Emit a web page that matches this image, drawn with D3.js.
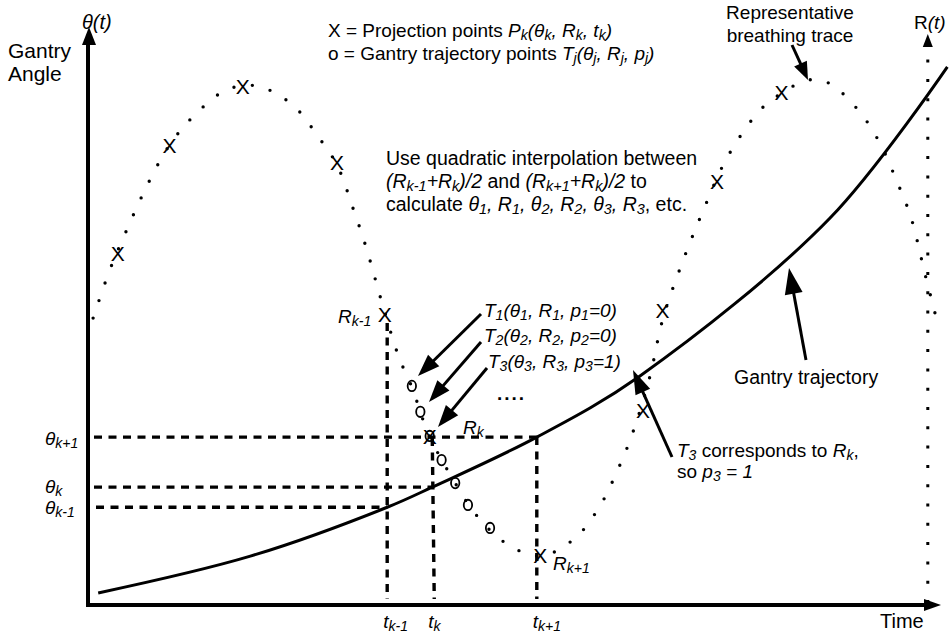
<!DOCTYPE html>
<html>
<head>
<meta charset="utf-8">
<script src="https://cdn.jsdelivr.net/npm/d3@7"></script>
<style>
  body { margin: 0; background: #fff; }
  text { font-family: "Liberation Sans", Arial, sans-serif; fill: #000; }
</style>
</head>
<body>
<svg id="chart" width="951" height="637"></svg>
<script>
"use strict";

// representative breathing trace R(t)
var traceT = [0.6, 2.6, 4.4, 7.1, 9.6, 12.2, 16.0, 18.2, 20.4, 24.2, 27.1, 29.3, 31.2, 32.7, 34.6,
  36.6, 38.1, 40.1, 43.2, 45.6, 49.1, 53.2, 57.2, 60.1, 62.2, 64.0, 66.1, 67.6, 69.9, 72.4,
  75.3, 79.1, 81.6, 84.7, 87.1, 90.6, 93.1, 95.1, 96.8, 98.5, 99.8];
var traceR = [49.9, 58.4, 64.7, 73.4, 80.0, 84.7, 89.4, 90.3, 90.1, 86.8, 81.4, 76.5, 68.9, 62.3, 52.5,
  43.0, 37.9, 29.6, 21.2, 15.8, 10.8, 8.5, 11.5, 16.9, 23.1, 29.6, 39.7, 49.6, 59.5, 68.7,
  78.1, 86.1, 89.0, 91.3, 90.8, 86.1, 80.5, 73.9, 67.5, 57.4, 49.9];

// projection points P_k (X)
var projT = [3.5, 9.6, 18.2, 29.3, 34.9, 40.2, 53.2, 65.3, 67.6, 74.0, 81.6];
var projR = [61.2, 80.0, 90.1, 77.0, 50.6, 29.4, 8.7, 33.9, 51.3, 73.6, 89.2];

// gantry trajectory points T_j (o)
var gantryPtT = [38.1, 39.1, 40.2, 41.6, 43.2, 44.7, 47.3];
var gantryPtR = [38.1, 33.6, 29.4, 25.2, 21.2, 17.4, 13.4];

// gantry trajectory theta(t)
var trajT = [1.2, 19.1, 35.2, 40.5, 52.8, 64.9, 87.3, 101.1];
var trajTheta = [2.1, 8.5, 17.0, 20.5, 29.2, 39.8, 67.3, 93.6];

// marked instants k-1, k, k+1
var tickNames = ["k-1", "k", "k+1"];
var tickT = [35.2, 40.5, 52.8];
var tickTheta = [17.0, 20.5, 29.2];

var svg = d3.select("#chart");
var x = d3.scaleLinear().domain([0, 100]).range([88, 938]);
var y = d3.scaleLinear().domain([0, 100]).range([605, 30]);

// filled-head arrow
function arrow(g, x1, y1, x2, y2, width, headLen, headHalf) {
  var dx = x2 - x1, dy = y2 - y1;
  var len = Math.sqrt(dx * dx + dy * dy);
  var ux = dx / len, uy = dy / len;
  var bx = x2 - ux * headLen, by = y2 - uy * headLen;
  g.append("line")
    .attr("x1", x1).attr("y1", y1)
    .attr("x2", bx + ux * 2).attr("y2", by + uy * 2)
    .attr("stroke", "#000")
    .attr("stroke-width", width);
  g.append("path")
    .attr("d", "M" + x2 + "," + y2 +
      "L" + (bx - uy * headHalf) + "," + (by + ux * headHalf) +
      "L" + (bx + uy * headHalf) + "," + (by - ux * headHalf) + "Z")
    .attr("fill", "#000");
}

// text with italic parts and subscripts
// n = normal, i = italic, s = italic subscript
function richText(g, px, py, segs, size, anchor) {
  var t = g.append("text")
    .attr("x", px).attr("y", py)
    .attr("font-size", size)
    .attr("text-anchor", anchor || "start");
  var shift = 0;
  segs.forEach(function(s) {
    var target = s[1] === "s" ? 2.5 : 0;
    t.append("tspan")
      .attr("dy", target - shift)
      .attr("font-style", s[1] === "n" ? "normal" : "italic")
      .attr("font-size", s[1] === "s" ? size * 0.74 : size)
      .text(s[0]);
    shift = target;
  });
  return t;
}

// axes
var axes = svg.append("g");
axes.append("line")
  .attr("x1", x(0)).attr("y1", y(0) + 2)
  .attr("x2", x(0)).attr("y2", 40)
  .attr("stroke", "#000").attr("stroke-width", 4);
axes.append("path")
  .attr("d", "M" + (x(0) + 1) + ",27L" + (x(0) - 6) + ",45L" + (x(0) + 8) + ",45Z")
  .attr("fill", "#000");
axes.append("line")
  .attr("x1", x(0) - 2).attr("y1", y(0))
  .attr("x2", 928).attr("y2", y(0))
  .attr("stroke", "#000").attr("stroke-width", 4);
axes.append("path")
  .attr("d", "M941," + y(0) + "L924," + (y(0) - 6) + "L924," + (y(0) + 6) + "Z")
  .attr("fill", "#000");

// R(t) axis, dotted
var rAxisX = x(98.8);
axes.append("line")
  .attr("x1", rAxisX).attr("y1", y(0) - 2)
  .attr("x2", rAxisX).attr("y2", 48)
  .attr("stroke", "#000").attr("stroke-width", 3)
  .attr("stroke-dasharray", "3,16.3");
axes.append("path")
  .attr("d", "M" + rAxisX + ",34L" + (rAxisX - 5) + ",47L" + (rAxisX + 5) + ",47Z")
  .attr("fill", "#000");

// dashed guides
var guides = svg.append("g")
  .attr("stroke", "#000")
  .attr("stroke-width", 3.4)
  .attr("stroke-dasharray", "8,6.5");
var vTop = [y(projR[4]) + 9, y(projR[5]) + 2, y(tickTheta[2])];
tickT.forEach(function(t, i) {
  guides.append("line")
    .attr("x1", 94 + (i === 0 ? 2 : 0)).attr("y1", y(tickTheta[i]))
    .attr("x2", x(t)).attr("y2", y(tickTheta[i]));
  guides.append("line")
    .attr("x1", x(t)).attr("y1", vTop[i])
    .attr("x2", x(t) + (i === 1 ? 2 : 0)).attr("y2", y(0) - 6);
});

// gantry trajectory
var trajLine = d3.line()
  .x(function(i) { return x(trajT[i]); })
  .y(function(i) { return y(trajTheta[i]); })
  .curve(d3.curveCatmullRom.alpha(0.5));
svg.append("path")
  .attr("d", trajLine(d3.range(trajT.length)))
  .attr("fill", "none")
  .attr("stroke", "#000")
  .attr("stroke-width", 3);

// breathing trace, dotted
var traceLine = d3.line()
  .x(function(i) { return x(traceT[i]); })
  .y(function(i) { return y(traceR[i]); })
  .curve(d3.curveCatmullRom.alpha(0.5));
svg.append("path")
  .attr("d", traceLine(d3.range(traceT.length)))
  .attr("fill", "none")
  .attr("stroke", "#000")
  .attr("stroke-width", 3.4)
  .attr("stroke-linecap", "round")
  .attr("stroke-dasharray", "0,18.5");

// projection points
svg.append("g").selectAll("text")
  .data(d3.range(projT.length))
  .join("text")
  .attr("x", function(i) { return x(projT[i]); })
  .attr("y", function(i) { return y(projR[i]); })
  .attr("dy", "0.36em")
  .attr("text-anchor", "middle")
  .attr("font-size", 21)
  .text("X");

// gantry trajectory points
svg.append("g").selectAll("ellipse")
  .data(d3.range(gantryPtT.length))
  .join("ellipse")
  .attr("cx", function(i) { return x(gantryPtT[i]); })
  .attr("cy", function(i) { return y(gantryPtR[i]); })
  .attr("rx", 4.2)
  .attr("ry", 5.2)
  .attr("fill", "none")
  .attr("stroke", "#000")
  .attr("stroke-width", 1.8);

// labels
var lab = svg.append("g");
richText(lab, 82, 29, [["θ(t)", "i"]], 20);
lab.append("text").attr("x", 8).attr("y", 58).attr("font-size", 21).text("Gantry");
lab.append("text").attr("x", 8).attr("y", 81).attr("font-size", 21).text("Angle");
richText(lab, 914, 29, [["R", "n"], ["(t)", "i"]], 19);
lab.append("text").attr("x", 880).attr("y", 628).attr("font-size", 20).text("Time");

richText(lab, 328, 37, [["X = Projection points ", "n"], ["P", "i"], ["k", "s"], ["(θ", "i"], ["k", "s"],
  [", R", "i"], ["k", "s"], [", t", "i"], ["k", "s"], [")", "i"]], 19);
richText(lab, 328, 60, [["o = Gantry trajectory points ", "n"], ["T", "i"], ["j", "s"], ["(θ", "i"], ["j", "s"],
  [", R", "i"], ["j", "s"], [", p", "i"], ["j", "s"], [")", "i"]], 19);

richText(lab, 386, 165, [["Use quadratic interpolation between", "n"]], 19.5);
richText(lab, 386, 188, [["(R", "i"], ["k-1", "s"], ["+R", "i"], ["k", "s"], [")/2", "i"], [" and ", "n"],
  ["(R", "i"], ["k+1", "s"], ["+R", "i"], ["k", "s"], [")/2", "i"], [" to", "n"]], 19.5);
richText(lab, 386, 211, [["calculate ", "n"], ["θ", "i"], ["1", "s"], [", R", "i"], ["1", "s"], [", θ", "i"], ["2", "s"],
  [", R", "i"], ["2", "s"], [", θ", "i"], ["3", "s"], [", R", "i"], ["3", "s"], [", etc.", "n"]], 19.5);

richText(lab, 790, 19, [["Representative", "n"]], 19, "middle");
richText(lab, 790, 42, [["breathing trace", "n"]], 19, "middle");

richText(lab, 734, 384, [["Gantry trajectory", "n"]], 19.5);

[1, 2, 3].forEach(function(n, i) {
  var p = n === 3 ? "=1)" : "=0)";
  richText(lab, i === 2 ? 488 : 484, [317, 342, 368][i], [["T", "i"], ["" + n, "s"], ["(θ", "i"], ["" + n, "s"],
    [", R", "i"], ["" + n, "s"], [", p", "i"], ["" + n, "s"], [p, "i"]], 19);
});
lab.append("text").attr("x", 497).attr("y", 400).attr("font-size", 19)
  .attr("font-weight", "bold").attr("letter-spacing", 2).text("....");

richText(lab, 677, 457, [["T", "i"], ["3", "s"], [" corresponds to ", "n"], ["R", "i"], ["k", "s"], [",", "n"]], 19);
richText(lab, 677, 478, [["so ", "n"], ["p", "i"], ["3", "s"], [" = 1", "i"]], 19);

richText(lab, 338, 323, [["R", "i"], ["k-1", "s"]], 19);
richText(lab, 463, 434, [["R", "i"], ["k", "s"]], 19);
richText(lab, 553, 570, [["R", "i"], ["k+1", "s"]], 19);

tickNames.forEach(function(name, i) {
  richText(lab, 45, y(tickTheta[i]) + [7, 6, 8][i], [["θ", "i"], [name, "s"]], 19);
  richText(lab, x(tickT[i]) - 4, 628, [["t", "i"], [name, "s"]], 19);
});

// annotation arrows
var ann = svg.append("g");
arrow(ann, 481, 314, 418, 376, 3, 22, 8);
arrow(ann, 481, 342, 429, 402, 3, 22, 8);
arrow(ann, 487, 368, 438, 427, 3, 22, 8);
arrow(ann, 672, 457, 633, 370, 3, 24, 8);
arrow(ann, 806, 360, 789, 268, 3, 26, 9);
arrow(ann, 792, 45, 808, 80, 3, 18, 7);
</script>
</body>
</html>
